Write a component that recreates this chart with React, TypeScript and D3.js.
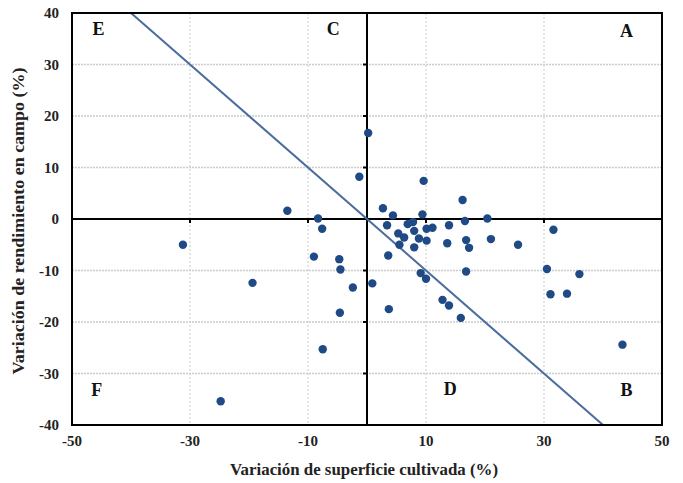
import React from "react";
import * as d3 from "d3";

const surfaceVar: number[] = [
  0.2, -1.3, 9.6, -13.5, -8.3, -7.6, -31.2, 2.7, 4.4, 3.4, 6.9, 7.8, 9.4, 5.3, 6.3, 8.0, 10.1, 11.1,
  8.8, 10.1, 5.5, 8.0, -9.0, -4.7, -4.5, 3.6, -19.4, -2.4, 0.9, 9.1, 10.0, 12.8, 13.9, -4.6, 3.7,
  -7.5, -24.8, 43.3, 16.2, 16.6, 20.4, 13.9, 13.6, 16.8, 17.3, 21.0, 25.6, 31.6, 16.8, 30.5, 36.0,
  31.1, 33.9, 15.9,
];
const yieldVar: number[] = [
  16.7, 8.2, 7.4, 1.6, 0.1, -1.9, -5.0, 2.1, 0.7, -1.2, -1.0, -0.6, 0.9, -2.8, -3.6, -2.3, -1.9, -1.7,
  -3.8, -4.2, -5.0, -5.5, -7.3, -7.8, -9.8, -7.1, -12.4, -13.3, -12.5, -10.5, -11.6, -15.7, -16.8,
  -18.2, -17.5, -25.3, -35.4, -24.4, 3.7, -0.4, 0.1, -1.2, -4.7, -4.1, -5.6, -3.9, -5.0, -2.1, -10.2,
  -9.7, -10.7, -14.6, -14.5, -19.2,
];
const xTicks: number[] = [-50, -30, -10, 10, 30, 50];
const yTicks: number[] = [40, 30, 20, 10, 0, -10, -20, -30, -40];
const lineX: number[] = [-40, 40];
const quadLabels: string[] = ["E", "C", "A", "F", "D", "B"];
const quadX: number[] = [-45.5, -5.7, 44, -45.8, 14.1, 44];
const quadY: number[] = [36.5, 36.5, 36.2, -33.6, -33.4, -33.6];

const W = 683;
const H = 483;
const L = 72, R = 662, T = 13, B = 425;

export default function App() {
  const x = d3.scaleLinear().domain([-50, 50]).range([L, R]);
  const y = d3.scaleLinear().domain([-40, 40]).range([B, T]);
  const fmt = (v: number) => (v < 0 ? "-" + Math.abs(v) : String(v));
  const line = d3.line<number>().x((d) => x(d)).y((d) => y(-d));
  const font = "'Liberation Serif', 'DejaVu Serif', serif";
  const gridX = [-30, -10, 10, 30];
  const gridY = yTicks.filter((v) => v !== 40 && v !== -40 && v !== 0);
  return (
    <svg width={W} height={H} style={{ position: "absolute", left: 0, top: 0, background: "#fff" }}>
      {gridX.map((v) => (
        <line key={"gx" + v} x1={x(v)} x2={x(v)} y1={T} y2={B} stroke="#d4d4d4" strokeWidth={1.2} strokeDasharray="2,2" />
      ))}
      {gridY.map((v) => (
        <line key={"gy" + v} x1={L} x2={R} y1={y(v)} y2={y(v)} stroke="#cccccc" strokeWidth={1.4} strokeDasharray="2,1" />
      ))}
      <line x1={x(0)} x2={x(0)} y1={T} y2={B} stroke="#000" strokeWidth={2} />
      <line x1={L} x2={R} y1={y(0)} y2={y(0)} stroke="#000" strokeWidth={2} />
      {yTicks.filter((v) => v !== 40 && v !== -40).map((v) => (
        <line key={"ty" + v} x1={x(0) - 4} x2={x(0)} y1={y(v)} y2={y(v)} stroke="#000" strokeWidth={2} />
      ))}
      {gridX.map((v) => (
        <line key={"tx" + v} x1={x(v)} x2={x(v)} y1={y(0)} y2={y(0) + 4} stroke="#000" strokeWidth={2} />
      ))}
      <path d={line(lineX) || ""} stroke="#4a6d9e" strokeWidth={2} fill="none" />
      {surfaceVar.map((sv, i) => (
        <circle key={"p" + i} cx={x(sv)} cy={y(yieldVar[i])} r={4.2} fill="#1f4a85" />
      ))}
      <rect x={L} y={T} width={R - L} height={B - T} fill="none" stroke="#000" strokeWidth={2} />
      {xTicks.map((v) => (
        <text key={"xl" + v} x={x(v)} y={446} textAnchor="middle" fontFamily={font} fontWeight="bold" fontSize={15} fill="#222">
          {fmt(v)}
        </text>
      ))}
      {yTicks.map((v) => (
        <text key={"yl" + v} x={59} y={y(v) + 5} textAnchor="end" fontFamily={font} fontWeight="bold" fontSize={15} fill="#222">
          {fmt(v)}
        </text>
      ))}
      {quadLabels.map((s, i) => (
        <text key={"q" + s} x={x(quadX[i])} y={y(quadY[i])} textAnchor="middle" dominantBaseline="middle" fontFamily={font} fontWeight="bold" fontSize={18} fill="#111">
          {s}
        </text>
      ))}
      <text x={364} y={475} textAnchor="middle" fontFamily={font} fontWeight="bold" fontSize={16} fill="#222" textLength={268} lengthAdjust="spacingAndGlyphs">
        Variación de superficie cultivada (%)
      </text>
      <text transform={`translate(24,221) rotate(-90)`} textAnchor="middle" fontFamily={font} fontWeight="bold" fontSize={16} fill="#222" textLength={307} lengthAdjust="spacingAndGlyphs">
        Variación de rendimiento en campo (%)
      </text>
    </svg>
  );
}
